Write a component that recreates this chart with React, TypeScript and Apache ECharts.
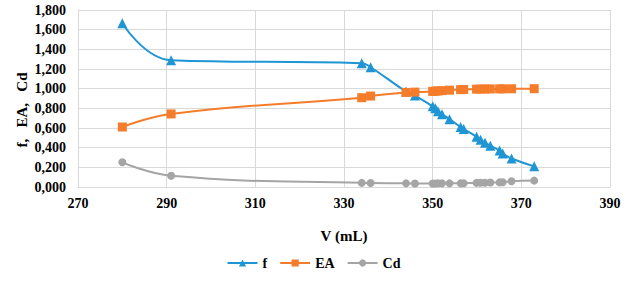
import React, { useEffect, useRef } from "react";
import * as echarts from "echarts";

const volumes = [280, 291, 334, 336, 344, 346, 350, 350.6, 351.2, 352.1, 353.8, 356.3, 357, 359.9, 360.8, 361.8, 363, 365.1, 365.8, 367.8, 372.9];
const fValues = [1.665, 1.29, 1.258, 1.218, 0.97, 0.93, 0.82, 0.8, 0.77, 0.74, 0.69, 0.61, 0.59, 0.51, 0.48, 0.45, 0.42, 0.37, 0.34, 0.29, 0.21];
const eaValues = [0.61, 0.743, 0.908, 0.925, 0.962, 0.965, 0.972, 0.975, 0.977, 0.98, 0.985, 0.99, 0.992, 0.995, 0.996, 0.997, 0.997, 0.998, 0.998, 0.999, 1.0];
const cdValues = [0.251, 0.115, 0.042, 0.041, 0.037, 0.036, 0.036, 0.036, 0.037, 0.037, 0.037, 0.037, 0.038, 0.042, 0.043, 0.044, 0.045, 0.047, 0.048, 0.058, 0.065];
const seriesNames = ["f", "EA", "Cd"];
const xAxisTitle = "V (mL)";
const yAxisTitle = "f,   EA,   Cd";

const FONT = "Times New Roman, Liberation Serif, serif";

export default function App() {
  const ref = useRef<HTMLDivElement>(null);
  useEffect(() => {
    if (!ref.current) return;
    const chart = echarts.init(ref.current, undefined, { renderer: "svg" });
    const pair = (vals: number[]) => volumes.map((v, i) => [v, vals[i]]);
    const mk = (name: string, vals: number[], color: string, symbol: string, size: number) => ({
      name,
      type: "line",
      data: pair(vals),
      smooth: 0.45,
      symbol,
      symbolSize: size,
      lineStyle: { color, width: 2 },
      itemStyle: { color },
      z: 3,
    });
    chart.setOption({
      animation: false,
      backgroundColor: "#ffffff",
      textStyle: { fontFamily: FONT },
      grid: { left: 78, right: 17, top: 10, bottom: 94, containLabel: false },
      xAxis: {
        type: "value",
        min: 270,
        max: 390,
        interval: 20,
        name: xAxisTitle,
        nameLocation: "middle",
        nameGap: 41,
        nameTextStyle: { fontFamily: FONT, fontWeight: "bold", fontSize: 15, color: "#000" },
        axisLine: { show: true, lineStyle: { color: "#d9d9d9" } },
        axisTick: { show: false },
        axisLabel: { fontFamily: FONT, fontWeight: "bold", fontSize: 14, color: "#000", margin: 9 },
        splitLine: { show: true, lineStyle: { color: "#d9d9d9", width: 1 } },
      },
      yAxis: {
        type: "value",
        min: 0,
        max: 1.8,
        interval: 0.2,
        axisLine: { show: true, lineStyle: { color: "#d9d9d9" } },
        axisTick: { show: false },
        axisLabel: {
          fontFamily: FONT,
          fontWeight: "bold",
          fontSize: 14,
          color: "#000",
          margin: 12,
          formatter: (v: number) => v.toFixed(3).replace(".", ","),
        },
        splitLine: { show: true, lineStyle: { color: "#d9d9d9", width: 1 } },
      },
      legend: {
        data: seriesNames,
        bottom: 6,
        left: "center",
        itemWidth: 30,
        itemHeight: 9,
        itemGap: 12,
        textStyle: { fontFamily: FONT, fontWeight: "bold", fontSize: 14, color: "#000" },
      },
      graphic: [
        {
          type: "text",
          x: 22,
          y: 110,
          rotation: Math.PI / 2,
          style: {
            text: yAxisTitle,
            fontFamily: FONT,
            fontWeight: "bold",
            fontSize: 15,
            fill: "#000",
            align: "center",
            verticalAlign: "middle",
          },
        },
      ],
      series: [
        mk(seriesNames[0], fValues, "#1f95d4", "triangle", 10),
        mk(seriesNames[1], eaValues, "#f57c2a", "rect", 9),
        mk(seriesNames[2], cdValues, "#a5a5a5", "circle", 8),
      ],
    });
    return () => chart.dispose();
  }, []);
  return (
    <div
      ref={ref}
      style={{ position: "absolute", left: 0, top: 0, width: 627, height: 281 }}
    />
  );
}
